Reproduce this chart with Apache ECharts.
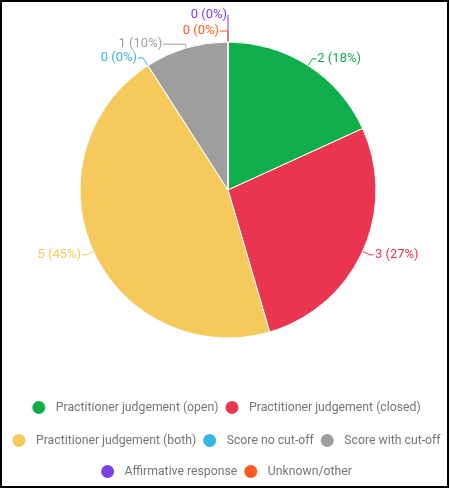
<!DOCTYPE html>
<html><head><meta charset="utf-8">
<script src="https://cdn.jsdelivr.net/npm/echarts@6/dist/echarts.min.js"></script>
<style>
html,body{margin:0;padding:0;background:#fff;}
#frame{position:absolute;left:0;top:0;width:449px;height:488px;box-sizing:border-box;border:2px solid #000;}
#chart{position:absolute;left:0;top:0;width:451px;height:489px;}
</style></head>
<body><div id="chart"></div><div id="frame"></div>
<script>
const categories = ["Practitioner judgement (open)","Practitioner judgement (closed)","Practitioner judgement (both)","Score no cut-off","Score with cut-off","Affirmative response","Unknown/other"];
const counts = [2,3,5,0,1,0,0];
const percentLabels = [18,27,45,0,10,0,0];
const colors = ["#0fae4b","#e9354f","#f5c95c","#3ab5e6","#9e9e9e","#7b3fe4","#ff5a1f"];
const legendRows = [[0,1],[2,3,4],[5,6]];

// label-line styling per slice index: [first segment length, second segment length]
const labelLineStyle = {0:[8,4],1:[8,4],2:[8,4],3:[9,5],4:[4,22],5:[27,0],6:[11,8]};

const chart = echarts.init(document.getElementById('chart'));
const data = categories.map((c,i)=>({
  name:c, value:counts[i],
  itemStyle:{color:colors[i]},
  label:{color:colors[i]},
  labelLine:{length:labelLineStyle[i][0],length2:labelLineStyle[i][1],lineStyle:{color:colors[i]}}
}));
const legendTops = [399,432,463];
chart.setOption({
  animation:false,
  legend: legendRows.map((r,k)=>({
    data: r.map(i=>categories[i]),
    top: legendTops[k], left:'center', padding:0, width:451,
    icon:'circle', itemWidth:24, itemHeight:15, itemGap:5,
    textStyle:{color:'#757575',fontSize:12.25,fontFamily:'Roboto'}
  })),
  series:[{
    type:'pie',
    center:[228,190], radius:148,
    startAngle:90, clockwise:true,
    minAngle:0, stillShowZeroSum:true,
    avoidLabelOverlap:false,
    itemStyle:{borderColor:'#fff',borderWidth:1},
    label:{show:true,fontSize:13,fontFamily:'Roboto',distanceToLabelLine:1,
      formatter:p=>counts[p.dataIndex]+' ('+percentLabels[p.dataIndex]+'%)'},
    labelLine:{show:true},
    data:data
  }]
});
</script></body></html>
